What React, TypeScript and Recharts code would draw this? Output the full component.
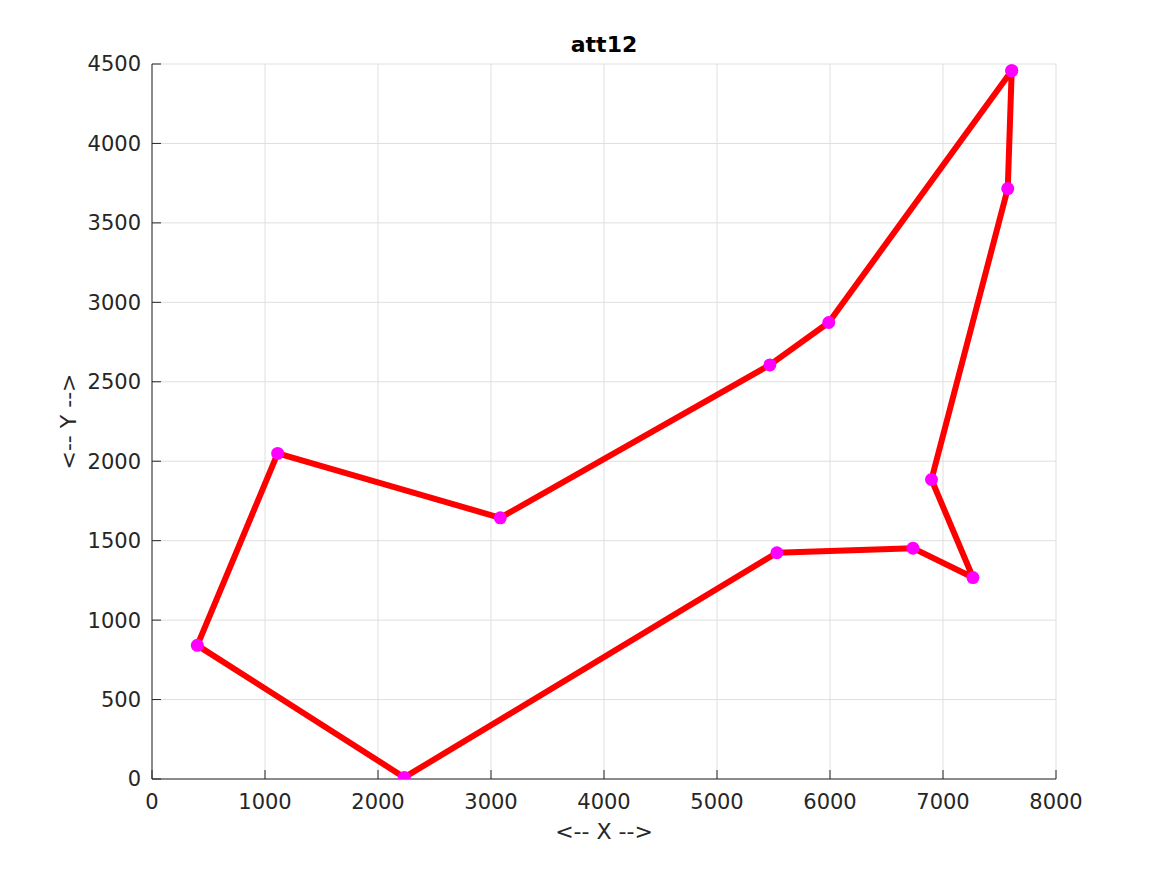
import React from 'react';
import { LineChart, Line, XAxis, YAxis, CartesianGrid } from 'recharts';

// att12 tour, in visiting order (first city repeated to close the loop)
const tourX = [7608, 7573, 6898, 7265, 6734, 5530, 2233, 401, 1112, 3082, 5468, 5989, 7608];
const tourY = [4458, 3716, 1885, 1268, 1453, 1424, 10, 841, 2049, 1644, 2606, 2873, 4458];
const xTicks = [0, 1000, 2000, 3000, 4000, 5000, 6000, 7000, 8000];
const yTicks = [0, 500, 1000, 1500, 2000, 2500, 3000, 3500, 4000, 4500];

const chartData = tourX.map((x, i) => ({ x, y: tourY[i] }));

const FONT = '"DejaVu Sans", sans-serif';
const INK = '#262626';
const TICK_LEN = 9;
const X_GAP = 15;
const Y_GAP = 11;

// MATLAB-style ticks pointing into the plot area
const XTick = (props: any) => {
  const { x, y, payload } = props;
  const axisY = y - X_GAP;
  return (
    <g>
      <line x1={x} x2={x} y1={axisY} y2={axisY - TICK_LEN} stroke={INK} strokeWidth={1} />
      <text x={x} y={y} dy="0.71em" textAnchor="middle" fill={INK} fontSize={21} fontFamily={FONT}>
        {payload.value}
      </text>
    </g>
  );
};

const YTick = (props: any) => {
  const { x, y, payload } = props;
  const axisX = x + Y_GAP;
  return (
    <g>
      <line x1={axisX} x2={axisX + TICK_LEN} y1={y} y2={y} stroke={INK} strokeWidth={1} />
      <text x={x} y={y} dy="0.355em" textAnchor="end" fill={INK} fontSize={21} fontFamily={FONT}>
        {payload.value}
      </text>
    </g>
  );
};

const App: React.FC = () => {
  return (
    <div style={{ position: 'absolute', left: 0, top: 0, width: 1167, height: 875, background: '#fff', fontFamily: FONT }}>
      {/* Title */}
      <div
        style={{
          position: 'absolute',
          left: 152,
          width: 904,
          top: 34,
          lineHeight: '22px',
          textAlign: 'center',
          fontSize: 22,
          fontWeight: 'bold',
          color: '#000',
        }}
      >
        att12
      </div>
      <LineChart
        width={1167}
        height={875}
        data={chartData}
        margin={{ top: 64, right: 111, bottom: 26, left: 62 }}
      >
        <CartesianGrid stroke="#dfdfdf" strokeWidth={1} />
        <XAxis
          type="number"
          dataKey="x"
          domain={[0, 8000]}
          ticks={xTicks}
          allowDataOverflow
          height={70}
          stroke={INK}
          tickLine={false}
          tickSize={0}
          tickMargin={X_GAP}
          tick={<XTick />}
          label={{ value: '<-- X -->', position: 'insideBottom', offset: 10, style: { fill: INK, fontSize: 22, fontFamily: FONT } }}
        />
        <YAxis
          type="number"
          dataKey="y"
          domain={[0, 4500]}
          ticks={yTicks}
          allowDataOverflow
          width={90}
          stroke={INK}
          tickLine={false}
          tickSize={0}
          tickMargin={Y_GAP}
          tick={<YTick />}
          label={{ value: '<-- Y -->', angle: -90, position: 'insideLeft', offset: 6, style: { textAnchor: 'middle', fill: INK, fontSize: 22, fontFamily: FONT } }}
        />
        {/* city markers underneath the route */}
        <Line
          dataKey="y"
          stroke="none"
          dot={{ r: 6.5, fill: '#ff00ff', stroke: 'none' }}
          activeDot={false}
          isAnimationActive={false}
        />
        <Line
          dataKey="y"
          type="linear"
          stroke="#ff0000"
          strokeWidth={6}
          strokeLinejoin="round"
          dot={false}
          activeDot={false}
          isAnimationActive={false}
        />
      </LineChart>
    </div>
  );
};

export default App;
